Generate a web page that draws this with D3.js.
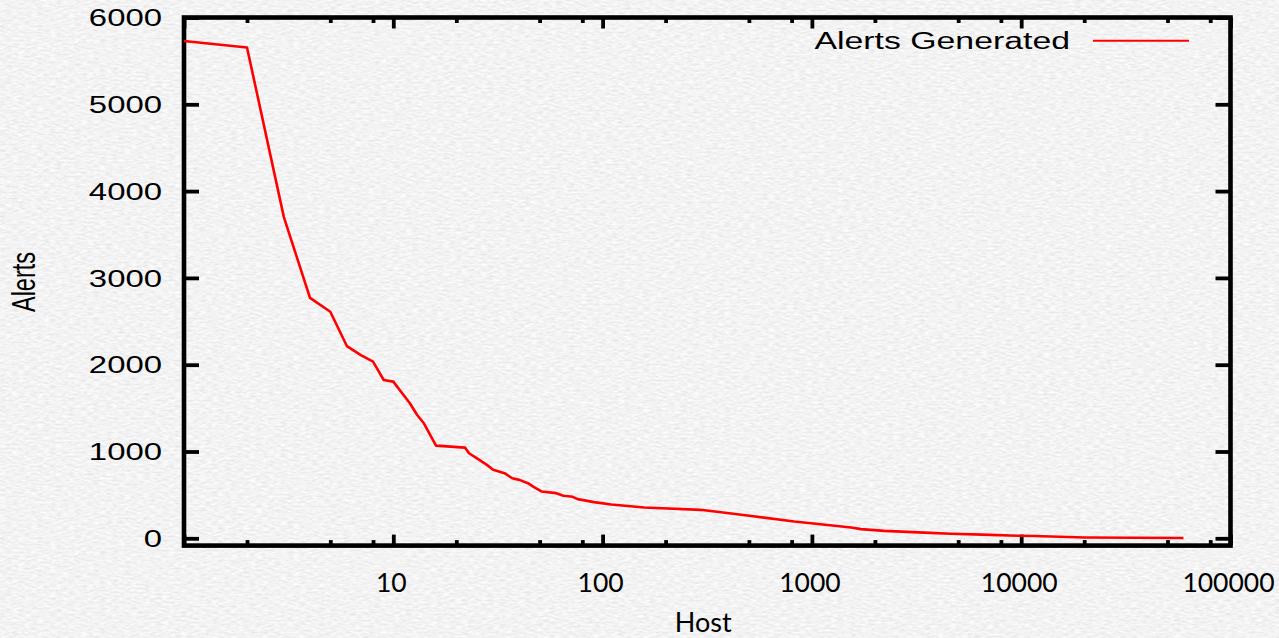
<!DOCTYPE html>
<html>
<head>
<meta charset="utf-8">
<script src="https://cdn.jsdelivr.net/npm/d3@7/dist/d3.min.js"></script>
<style>
  html, body { margin: 0; padding: 0; background: #e4e4e6; }
  svg { display: block; }
</style>
</head>
<body>
<svg id="chart" width="1279" height="638"></svg>
<script>
// ---- data ----
const hostRank = [1, 2, 3, 4, 5, 6, 7, 8, 9, 10, 12, 13, 14, 16, 22, 23, 25, 28, 30, 34, 37, 40, 44, 47, 51, 60, 65, 72, 76, 91, 110, 158, 294, 492, 823, 1285, 1537, 1715, 2218, 3670, 4624, 6510, 9640, 11530, 20100, 59600];
const alerts   = [5730, 5655, 3700, 2770, 2610, 2215, 2110, 2035, 1824, 1805, 1556, 1420, 1325, 1068, 1045, 980, 923, 846, 790, 750, 692, 673, 635, 589, 540, 520, 490, 478, 451, 417, 390, 354, 328, 262, 193, 144, 124, 106, 86, 62, 52, 42, 29, 26, 10, 3];
const yTicks = [0, 1000, 2000, 3000, 4000, 5000, 6000];
const xMajorTicks = [1, 10, 100, 1000, 10000, 100000];
const xLabelTicks = [10, 100, 1000, 10000, 100000];
const xMinorTicks = [2, 5, 8, 20, 50, 80, 200, 500, 800, 2000, 5000, 8000, 20000, 50000, 80000];
const seriesName = "Alerts Generated";
const xTitle = "Host";
const yTitle = "Alerts";

// ---- layout ----
const W = 1279, H = 638;
const plotLeft = 184, plotRight = 1230.5, plotTop = 17.5, zeroY = 538.3;
const yMin = -84;
const stretch = 1.4;

const svg = d3.select("#chart");

// background paper texture
const defs = svg.append("defs");
const f = defs.append("filter").attr("id", "paper").attr("x", 0).attr("y", 0).attr("width", "100%").attr("height", "100%");
f.append("feTurbulence").attr("type", "fractalNoise").attr("baseFrequency", "0.16 0.5").attr("numOctaves", 3).attr("seed", 7).attr("result", "n");
f.append("feColorMatrix").attr("in", "n").attr("type", "matrix")
  .attr("values", "0.3 0 0 0 0.745  0.3 0 0 0 0.745  0.3 0 0 0 0.755  0 0 0 0 1");
svg.append("rect").attr("width", W).attr("height", H).attr("fill", "#e4e4e6");
svg.append("rect").attr("width", W).attr("height", H).attr("filter", "url(#paper)");

const x = d3.scaleLog().domain([1, 100000]).range([plotLeft, plotRight]);
const y = d3.scaleLinear().domain([0, 6000]).range([zeroY, plotTop]);

const plotBottom = y(yMin);

// ---- ticks via d3 axes ----
function styleAxis(g) {
  g.select(".domain").remove();
  g.selectAll("line").attr("stroke", "#000").attr("stroke-width", 3.8);
  g.selectAll("text").remove();
}
svg.append("g").attr("transform", `translate(0,${plotBottom})`)
  .call(d3.axisBottom(x).tickValues(xMajorTicks).tickSize(-11).tickFormat(""))
  .call(styleAxis);
svg.append("g").attr("transform", `translate(0,${plotBottom})`)
  .call(d3.axisBottom(x).tickValues(xMinorTicks).tickSize(-5.5).tickFormat(""))
  .call(styleAxis);
svg.append("g").attr("transform", `translate(0,${plotTop})`)
  .call(d3.axisTop(x).tickValues(xMajorTicks).tickSize(-11).tickFormat(""))
  .call(styleAxis);
svg.append("g").attr("transform", `translate(0,${plotTop})`)
  .call(d3.axisTop(x).tickValues(xMinorTicks).tickSize(-5.5).tickFormat(""))
  .call(styleAxis);
svg.append("g").attr("transform", `translate(${plotLeft},0)`)
  .call(d3.axisLeft(y).tickValues(yTicks).tickSize(-15).tickFormat(""))
  .call(styleAxis);
svg.append("g").attr("transform", `translate(${plotRight},0)`)
  .call(d3.axisRight(y).tickValues(yTicks).tickSize(-15).tickFormat(""))
  .call(styleAxis);

// frame
svg.append("rect")
  .attr("x", x(1)).attr("y", y(6000))
  .attr("width", x(100000) - x(1)).attr("height", plotBottom - y(6000))
  .attr("fill", "none").attr("stroke", "#000").attr("stroke-width", 4.6);

// ---- tick labels ----
svg.append("g").selectAll("text").data(yTicks).join("text")
  .attr("transform", d => `translate(162,${y(d) + 8.6}) scale(${stretch},1)`)
  .attr("text-anchor", "end")
  .attr("font-family", "'Liberation Sans', Arial, sans-serif")
  .attr("font-size", 23.5)
  .attr("fill", "#000")
  .text(d => d);

svg.append("g").selectAll("text").data(xLabelTicks).join("text")
  .attr("x", d => x(d) - 2)
  .attr("y", 591.5)
  .attr("text-anchor", "middle")
  .attr("font-family", "Lato, 'Open Sans', sans-serif")
  .attr("font-size", 26.5)
  .attr("fill", "#000")
  .text(d => d);

// axis titles
svg.append("text")
  .attr("x", (plotLeft + plotRight) / 2 - 4).attr("y", 632)
  .attr("text-anchor", "middle")
  .attr("font-family", "Lato, 'Open Sans', sans-serif")
  .attr("font-size", 27)
  .attr("fill", "#000")
  .text(xTitle);

svg.append("text")
  .attr("transform", `translate(35,282) scale(${stretch},1) rotate(-90)`)
  .attr("text-anchor", "middle")
  .attr("font-family", "'Liberation Sans', Arial, sans-serif")
  .attr("font-size", 23.5)
  .attr("fill", "#000")
  .text(yTitle);

// ---- series line ----
const pts = hostRank.map((h, i) => [h, alerts[i]]);
const line = d3.line().x(d => x(d[0])).y(d => y(d[1]));
svg.append("path")
  .datum(pts)
  .attr("d", line)
  .attr("fill", "none")
  .attr("stroke", "#ff0000")
  .attr("stroke-width", 2.6)
  .attr("stroke-linejoin", "round");

// ---- legend ----
svg.append("text")
  .attr("transform", `translate(1070,49.3) scale(1.47,1)`)
  .attr("text-anchor", "end")
  .attr("font-family", "'Liberation Sans', Arial, sans-serif")
  .attr("font-size", 23)
  .attr("fill", "#000")
  .text(seriesName);
svg.append("line")
  .attr("x1", 1093).attr("x2", 1189).attr("y1", 40.7).attr("y2", 40.7)
  .attr("stroke", "#ff0000").attr("stroke-width", 2);
</script>
</body>
</html>
